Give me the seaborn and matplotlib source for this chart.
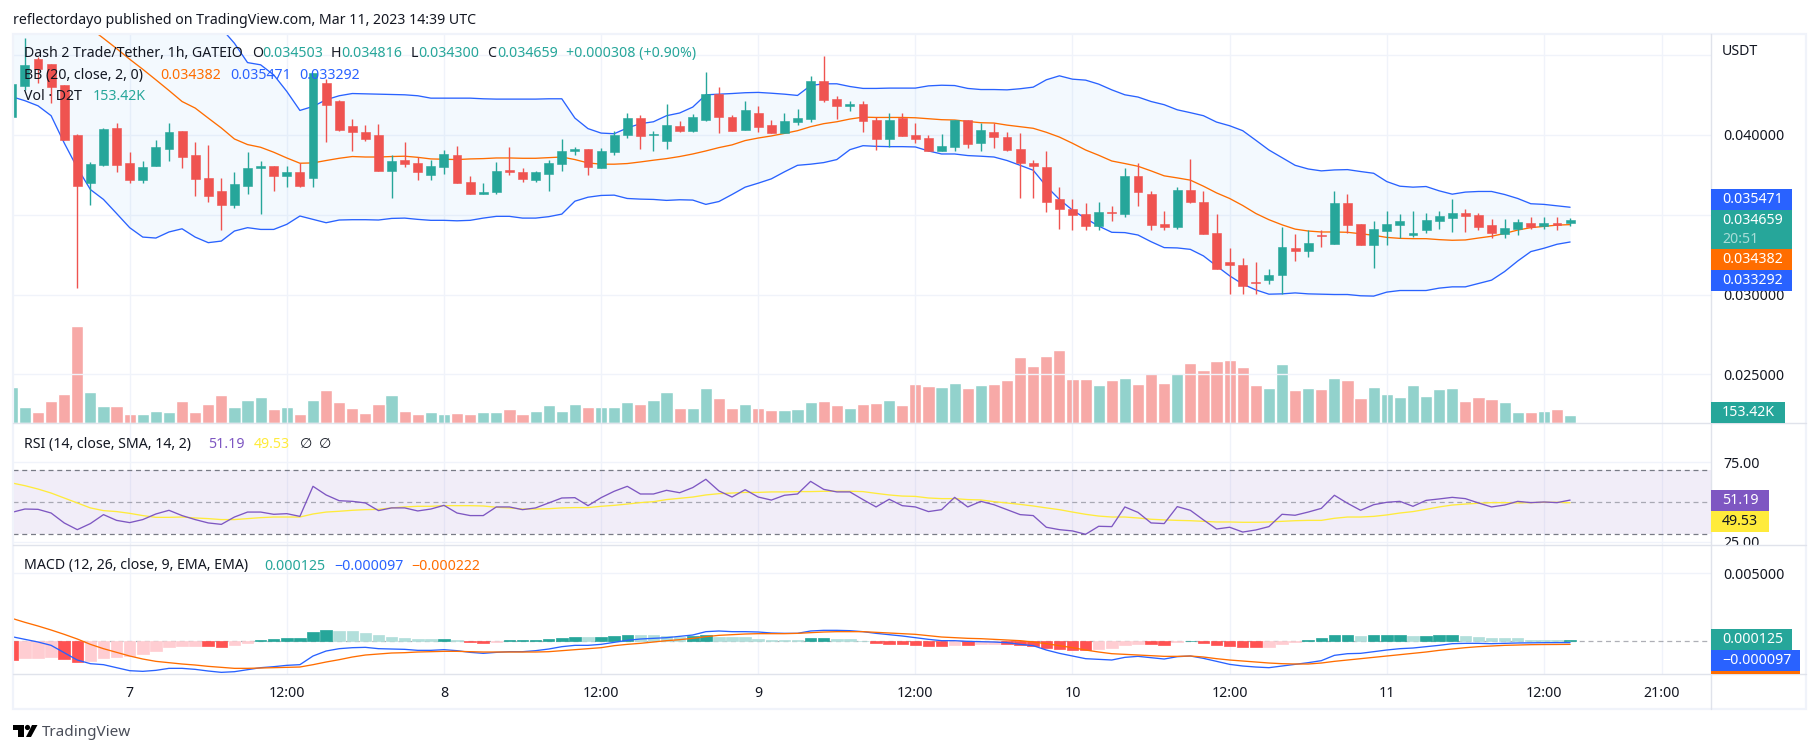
import numpy as np
import pandas as pd
import matplotlib
matplotlib.use('Agg')
import matplotlib.pyplot as plt
from matplotlib.patches import Rectangle, Circle, Polygon
from matplotlib.transforms import Bbox
import seaborn as sns

# candles, one per hour, hour 0 = Mar 7 00:00. prices in 0.001 USDT
open_m = [41.12,43.08,44.75,44.46,43.15,40.02,36.96,38.15,40.46,
    38.27,37.21,38.08,39.15,40.27,38.77,37.33,36.46,35.58,36.83,
    37.90,38.08,37.46,37.65,37.33,43.27,42.15,40.58,40.21,40.02,
    37.77,38.46,38.27,37.52,38.02,38.77,37.08,36.33,36.40,37.83,
    37.65,37.21,37.58,38.21,39.02,39.15,37.90,38.96,40.02,41.08,
    40.02,39.65,40.58,40.27,40.96,42.58,41.15,40.33,41.40,40.65,
    40.15,40.83,41.02,43.40,42.27,41.83,41.96,40.96,39.77,41.08,
    40.02,39.83,39.02,39.27,40.96,39.52,40.21,39.90,39.15,38.27,
    38.02,35.96,35.33,35.02,34.27,35.15,35.02,37.40,36.33,34.40,
    34.21,36.58,35.83,33.83,32.02,31.83,30.77,30.90,31.21,32.90,
    32.71,33.71,33.15,35.71,34.40,33.08,33.96,34.33,33.71,34.02,
    34.58,34.77,35.08,34.96,34.33,33.77,34.08,34.46,34.27,34.46,34.503]
close_m = [43.21,44.40,44.15,43.02,39.71,36.83,38.21,40.40,38.15,
    37.21,38.02,39.27,40.21,38.65,37.27,36.15,35.58,36.90,37.96,
    38.08,37.40,37.65,36.83,43.90,41.90,40.33,40.21,39.77,37.77,
    38.40,38.21,37.65,38.08,38.83,37.02,36.33,36.40,37.77,37.71,
    37.27,37.65,38.27,39.02,39.15,37.98,39.02,40.02,41.08,39.96,
    40.08,40.65,40.27,41.15,42.58,41.15,40.27,41.58,40.52,40.15,
    40.90,41.08,43.40,42.21,41.83,41.96,40.90,39.77,40.96,39.96,
    39.77,39.02,39.33,40.96,39.46,40.33,39.90,39.08,38.27,38.08,
    35.83,35.33,34.96,34.27,35.15,35.08,37.40,36.40,34.33,34.21,
    36.58,35.77,33.77,31.58,31.83,30.52,30.71,31.21,32.96,32.71,
    33.21,33.65,35.71,34.33,33.08,34.08,34.40,34.58,33.83,34.65,
    34.90,35.08,34.90,34.21,33.83,34.15,34.52,34.21,34.46,34.33,34.659]
high_m = [43.21,46.06,44.92,44.46,43.15,40.08,38.31,40.44,40.77,
    38.96,38.40,39.71,40.77,40.27,39.58,39.40,37.33,37.71,38.96,
    38.40,38.08,38.08,38.27,43.90,43.52,42.21,41.02,40.65,40.71,
    38.77,39.58,38.65,38.46,39.08,39.33,37.46,37.02,38.33,39.27,
    37.90,37.77,38.46,39.77,39.27,39.15,39.21,40.27,41.40,41.27,
    40.27,41.96,40.90,41.33,43.96,43.02,41.27,42.15,41.83,40.96,
    41.40,41.65,43.71,44.96,42.46,42.15,42.15,41.15,41.40,41.40,
    40.77,40.02,40.08,40.96,40.96,40.77,40.77,40.21,40.15,38.46,
    39.02,36.77,35.96,35.71,35.77,35.52,37.96,38.27,36.46,35.21,
    36.77,38.52,36.52,35.02,32.90,32.27,32.02,31.58,34.21,33.77,
    34.02,34.02,36.52,36.33,34.40,34.58,35.21,35.02,35.21,35.08,
    35.21,35.96,35.33,35.08,34.71,34.71,34.71,34.83,34.83,34.83,34.816]
low_m = [41.12,42.83,43.29,42.00,39.71,30.42,35.58,38.04,37.71,
    37.02,37.02,38.08,38.40,37.96,36.15,35.83,34.02,35.40,36.33,
    35.02,36.52,36.77,36.77,36.77,39.58,40.27,39.02,39.65,37.77,
    36.08,38.02,37.15,37.15,37.58,37.02,36.27,36.27,36.33,37.52,
    37.08,37.08,36.46,37.77,38.77,37.52,37.90,38.77,39.83,39.15,
    39.02,39.15,40.21,40.21,40.90,40.15,40.27,40.33,40.21,40.15,
    40.15,40.65,40.83,42.08,41.02,41.52,40.21,39.08,39.27,39.96,
    39.52,39.02,39.02,39.02,39.21,39.02,39.21,39.02,36.08,36.08,
    35.15,34.08,34.02,34.02,34.02,34.58,34.83,35.52,34.02,34.02,
    34.08,35.71,33.77,31.58,30.02,30.02,30.02,30.65,30.02,32.08,
    32.33,32.96,33.15,33.83,33.08,31.64,33.08,33.52,33.58,33.83,
    34.08,33.90,33.90,34.02,33.52,33.52,33.71,34.08,34.08,34.02,34.30]

# bollinger bands, first upper/basis points run off the top of the pane
bb_upper_m = [48.5,48.5,48.5,48.4,48.2,48.0,47.9,47.9,47.8,
    47.8,47.7,47.7,47.6,47.5,47.4,47.2,46.69,45.75,44.54,
    44.40,43.77,42.73,41.54,41.79,42.21,42.46,42.60,42.58,42.56,
    42.54,42.52,42.46,42.31,42.31,42.31,42.31,42.27,42.25,42.25,
    42.25,42.25,42.27,42.27,41.06,40.40,40.12,40.08,40.44,40.71,
    40.83,41.21,41.38,41.75,42.52,42.56,42.60,42.65,42.67,42.62,
    42.56,42.48,43.10,43.21,43.21,43.04,42.92,42.92,42.94,42.94,
    42.94,43.08,43.12,43.10,42.92,42.85,42.85,42.83,42.90,43.00,
    43.46,43.71,43.50,43.44,43.19,42.83,42.52,42.38,42.10,41.90,
    41.58,41.40,41.21,40.81,40.58,40.27,39.67,39.06,38.58,38.10,
    37.87,37.75,37.81,37.83,37.71,37.60,37.08,36.79,36.73,36.77,
    36.50,36.29,36.42,36.46,36.46,36.27,36.02,35.69,35.65,35.56,35.471]
bb_basis_m = [48.9,48.7,48.5,48.25,47.83,47.31,46.69,46.06,45.42,
    44.75,44.12,43.46,42.79,42.10,41.69,41.06,40.44,39.75,39.40,
    39.23,38.92,38.56,38.23,38.25,38.40,38.54,38.65,38.62,38.62,
    38.65,38.67,38.60,38.50,38.48,38.46,38.50,38.52,38.56,38.56,
    38.54,38.54,38.58,38.62,38.46,38.25,38.17,38.17,38.21,38.31,
    38.42,38.52,38.65,38.81,39.00,39.21,39.38,39.65,39.81,39.94,
    40.10,40.27,40.52,40.71,40.83,41.00,41.12,41.10,41.10,41.10,
    41.08,41.02,40.96,40.94,40.85,40.77,40.75,40.62,40.52,40.42,
    40.17,39.87,39.48,39.06,38.73,38.37,38.21,38.04,37.75,37.44,
    37.31,37.17,36.79,36.37,36.02,35.58,35.08,34.69,34.37,34.10,
    33.98,33.92,33.92,33.90,33.81,33.71,33.58,33.52,33.50,33.50,
    33.44,33.40,33.42,33.54,33.65,33.83,34.04,34.19,34.27,34.35,34.382]
bb_lower_m = [42.40,42.15,41.83,41.21,39.50,37.94,36.58,35.96,35.08,
    34.19,33.60,33.54,33.92,34.12,33.60,33.25,33.35,33.98,34.19,
    34.08,34.08,34.40,34.92,34.71,34.50,34.67,34.69,34.69,34.67,
    34.77,34.79,34.71,34.65,34.65,34.62,34.65,34.79,34.90,34.90,
    34.79,34.79,34.88,35.04,35.85,36.10,36.21,36.23,36.02,35.98,
    35.96,35.90,35.94,35.92,35.65,35.83,36.27,36.73,36.98,37.25,
    37.69,38.10,38.17,38.27,38.46,39.08,39.33,39.29,39.27,39.27,
    39.25,39.00,38.81,38.81,38.71,38.67,38.62,38.40,38.10,37.79,
    36.79,35.96,35.29,34.77,34.29,33.90,33.88,33.73,33.31,32.94,
    32.92,32.83,32.42,31.79,31.17,30.65,30.29,30.02,30.04,30.10,
    30.04,30.02,30.00,30.00,29.92,29.90,30.15,30.25,30.25,30.25,
    30.40,30.48,30.48,30.69,30.90,31.44,32.10,32.69,32.90,33.15,33.292]

# volume in thousands
volume_k = [669,301,209,411,540,1793,577,319,319,
    172,172,227,209,411,209,356,522,301,430,
    485,264,301,172,430,614,393,282,190,356,
    522,227,172,209,172,190,172,209,209,264,
    172,227,338,227,356,301,301,301,393,356,
    430,577,282,282,651,467,282,356,282,246,
    246,264,393,411,338,282,356,375,430,338,
    725,688,669,743,651,706,725,798,1222,1056,
    1240,1351,817,817,706,798,835,725,927,743,
    927,1111,982,1148,1167,1038,706,651,1093,614,
    651,632,835,798,467,669,540,485,706,503,
    632,651,411,485,448,393,209,209,227,264,153.42]

rsi = [43.5,45.6,45.4,43.1,36.9,32.7,36.5,42.1,38.5,
    37.1,39.0,42.5,44.8,41.5,39.0,36.9,36.0,40.6,43.7,
    43.7,42.3,42.7,41.0,59.8,54.4,50.8,50.4,49.4,44.6,
    46.3,46.3,44.4,45.6,47.9,43.1,41.5,41.5,46.9,46.9,
    45.2,46.3,49.4,52.5,52.7,47.7,52.7,56.7,59.8,55.0,
    55.0,57.3,55.8,59.0,64.2,56.9,53.1,57.7,53.1,51.2,
    54.2,55.0,62.9,57.9,56.3,56.3,51.5,46.9,51.7,47.7,
    46.9,44.0,45.2,52.9,46.9,50.4,48.3,45.2,42.1,41.5,
    34.2,32.7,31.9,29.8,34.8,34.6,46.9,43.5,36.9,36.5,
    47.1,44.8,38.8,33.1,34.2,31.2,32.5,34.6,42.3,41.7,
    43.7,46.0,54.2,49.2,44.8,48.3,49.8,50.4,47.3,51.0,
    51.9,52.9,52.1,49.4,46.9,48.1,50.4,49.6,50.0,49.6,51.19]
rsi_sma = [61.9,60.2,58.1,55.6,52.5,49.4,46.3,44.6,44.0,
    42.9,41.5,40.4,40.4,40.6,40.0,39.6,39.0,39.0,39.6,
    40.2,40.6,40.6,40.6,42.5,43.7,44.2,44.8,45.2,45.4,
    46.3,46.9,47.3,47.3,47.7,47.7,47.7,47.5,46.7,46.3,
    45.6,45.6,45.8,46.3,46.5,46.5,47.3,47.9,48.7,49.6,
    50.2,51.5,52.3,53.1,54.4,55.2,55.6,56.0,56.0,56.3,
    56.3,56.5,56.5,56.7,56.7,56.7,56.5,55.4,54.4,53.7,
    53.5,52.5,52.1,52.1,51.5,51.3,50.2,49.4,48.5,47.5,
    46.3,45.2,43.7,42.3,41.2,40.6,40.6,40.0,39.2,38.8,
    38.5,38.3,37.9,37.5,37.5,37.3,37.3,37.5,37.9,38.3,
    38.5,38.5,39.8,40.6,40.6,41.0,41.9,43.1,44.0,45.4,
    46.9,48.1,48.7,49.2,49.6,49.6,49.4,49.6,49.8,49.8,49.53]

# macd in millionths of USDT
macd_hist_u = [-1372,-1225,-1220,-1151,-1298,-1519,-1445,-1225,-1151,
    -1078,-931,-710,-416,-343,-340,-345,-416,-270,-122,
    98,172,245,250,686,833,760,755,612,466,
    318,245,172,170,175,98,-49,-122,-49,98,
    105,110,172,245,318,315,320,392,466,460,
    441,392,343,392,466,318,315,312,172,98,
    96,94,245,250,172,170,25,-122,-196,-200,
    -270,-343,-345,-270,-275,-196,-190,-195,-270,-343,
    -490,-564,-637,-640,-564,-490,-270,-196,-200,-270,
    -49,49,-122,-270,-343,-416,-420,-415,-196,-49,
    98,245,466,470,392,466,470,475,392,395,
    466,470,392,318,245,240,235,120,118,115,125]
macd_line_u = [343,147,-49,-294,-833,-1372,-1642,-1715,-1936,
    -2156,-2205,-2132,-1985,-1985,-2058,-2181,-2279,-2230,-2083,
    -1936,-1862,-1764,-1715,-1078,-711,-539,-466,-441,-539,
    -564,-588,-662,-662,-613,-686,-809,-882,-809,-760,
    -760,-686,-564,-392,-294,-294,-221,-74,74,172,
    221,270,368,466,711,760,711,711,686,613,
    588,588,760,809,809,784,711,588,490,392,
    270,147,49,49,0,-25,-49,-98,-221,-319,
    -637,-882,-1078,-1274,-1323,-1372,-1176,-1103,-1201,-1299,
    -1127,-1078,-1250,-1470,-1691,-1813,-1887,-1936,-1813,-1691,
    -1568,-1421,-1029,-907,-882,-760,-637,-539,-490,-392,
    -294,-172,-147,-147,-172,-147,-120,-110,-100,-95,-97]
macd_signal_u = [1691,1397,1127,833,515,172,-221,-539,-809,
    -1078,-1299,-1470,-1568,-1666,-1740,-1838,-1911,-1985,-1985,
    -1960,-1936,-1911,-1887,-1715,-1519,-1348,-1152,-1005,-931,
    -858,-833,-784,-760,-735,-735,-760,-784,-784,-784,
    -784,-784,-760,-686,-613,-539,-466,-319,-221,-147,
    -49,49,122,221,343,441,490,539,564,564,
    564,588,637,686,711,711,711,662,613,564,
    515,417,318,270,221,196,147,98,49,-49,
    -172,-319,-466,-637,-784,-907,-956,-1005,-1054,-1103,
    -1103,-1078,-1152,-1274,-1372,-1446,-1519,-1593,-1642,-1666,
    -1666,-1593,-1470,-1372,-1274,-1176,-1078,-980,-882,-784,
    -662,-564,-466,-392,-343,-294,-270,-245,-235,-230,-222]

time_ticks = [0, 12, 24, 36, 48, 60, 72, 84, 96, 108, 117]
time_labels = ['7', '12:00', '8', '12:00', '9', '12:00', '10', '12:00', '11', '12:00', '21:00']
bold_labels = ['7', '8', '9', '10']
price_ticks = [0.045, 0.040, 0.035, 0.030, 0.025]
price_labels = ['', '0.040000', '', '0.030000', '0.025000']

GREEN = '#26a69a'
RED = '#ef5350'
BLUE = '#2962ff'
ORANGE = '#ff6d00'
PURPLE = '#7e57c2'
YELLOW = '#ffeb3b'
INK = '#131722'
GRID = '#f0f3fa'
EDGE = '#e0e3eb'
FONT = 10.2
LINE = 0.95

sns.set_theme(style='white')
plt.rcParams['font.family'] = ['Noto Sans', 'DejaVu Sans']
plt.rcParams['font.size'] = FONT

df = pd.DataFrame({'hour': np.arange(-9, 111), 'open': open_m, 'high': high_m, 'low': low_m,
                   'close': close_m, 'upper': bb_upper_m, 'basis': bb_basis_m, 'lower': bb_lower_m,
                   'volume': volume_k, 'rsi': rsi, 'rsi_sma': rsi_sma, 'hist': macd_hist_u,
                   'macd': macd_line_u, 'signal': macd_signal_u})
for col in ['open', 'high', 'low', 'close', 'upper', 'basis', 'lower']:
    df[col] = df[col] * 1e-3
for col in ['hist', 'macd', 'signal']:
    df[col] = df[col] * 1e-6
df['up'] = df['close'] >= df['open']
df['direction'] = np.where(df['up'], 'up', 'down')

prev = df['hist'].shift(1).fillna(np.inf)
df['shade'] = np.where(df['hist'] >= 0,
                       np.where(df['hist'] > prev, 'up_strong', 'up_weak'),
                       np.where(df['hist'] < prev, 'down_strong', 'down_weak'))

W, H = 1814, 753
X_LEFT, X_RIGHT = 13, 1711
XLIM = (-8.91, 120.76)
fig = plt.figure(figsize=(W / 100, H / 100), dpi=100, facecolor='white')


def pane(top, bottom, zorder=1):
    ax = fig.add_axes([X_LEFT / W, 1 - bottom / H, (X_RIGHT - X_LEFT) / W, (bottom - top) / H], zorder=zorder)
    sns.despine(ax=ax, left=True, bottom=True)
    ax.set_xlim(XLIM)
    return ax


def finish(ax, yticks, ylabels):
    ax.set_xlim(XLIM)
    ax.set_xlabel('')
    ax.set_ylabel('')
    ax.set_xticks(time_ticks)
    ax.set_yticks(yticks)
    ax.set_yticklabels(ylabels)
    ax.yaxis.tick_right()
    ax.set_axisbelow(True)
    ax.grid(True, color=GRID, lw=1.0)
    ax.tick_params(axis='y', length=0, pad=8.6, labelsize=FONT, labelcolor=INK)
    ax.tick_params(axis='x', length=0, labelbottom=False)


# volume sits in its own axes behind the price pane
ax_vol = pane(34, 423, zorder=1)
sns.barplot(data=df, x='hour', y='volume', hue='direction', palette={'up': '#92d2cc', 'down': '#f7a9a7'},
            native_scale=True, dodge=False, width=0.93, saturation=1, errorbar=None, legend=False, ax=ax_vol)
ax_vol.set_ylim(0, 7165)
ax_vol.set_xlim(XLIM)
ax_vol.axis('off')

ax = pane(34, 423, zorder=2)
ax.patch.set_alpha(0)
ax.fill_between(df['hour'], df['upper'], df['lower'], color='#2196f3', alpha=0.05, lw=0, zorder=1)
sns.lineplot(data=df, x='hour', y='upper', color=BLUE, lw=LINE, errorbar=None, ax=ax, zorder=2)
sns.lineplot(data=df, x='hour', y='lower', color=BLUE, lw=LINE, errorbar=None, ax=ax, zorder=2)
sns.lineplot(data=df, x='hour', y='basis', color=ORANGE, lw=LINE, errorbar=None, ax=ax, zorder=2)
colors = df['up'].map({True: GREEN, False: RED})
ax.vlines(df['hour'], df['low'], df['high'], colors=colors, lw=1.0, zorder=3)
ax.bar(df['hour'], (df['close'] - df['open']).abs(), bottom=df[['open', 'close']].min(axis=1),
       width=0.68, color=colors, edgecolor=colors, lw=0.4, zorder=4)
ax.set_ylim(0.021944, 0.046332)
finish(ax, price_ticks, price_labels)

# rsi
ax_rsi = pane(423, 545, zorder=3)
ax_rsi.axhspan(30, 70, color=PURPLE, alpha=0.1, lw=0)
ax_rsi.axhline(70, color='#787b86', ls=(0, (4, 3)), lw=0.9)
ax_rsi.axhline(30, color='#787b86', ls=(0, (4, 3)), lw=0.9)
ax_rsi.axhline(50, color='#787b86', ls=(0, (4, 3)), lw=0.9, alpha=0.6)
sns.lineplot(data=df, x='hour', y='rsi_sma', color=YELLOW, lw=LINE, errorbar=None, ax=ax_rsi)
sns.lineplot(data=df, x='hour', y='rsi', color=PURPLE, lw=LINE, errorbar=None, ax=ax_rsi)
ax_rsi.set_ylim(23.1, 99.4)
finish(ax_rsi, [25, 75], ['25.00', '75.00'])
for lab in ax_rsi.get_yticklabels():
    lab.set_clip_on(True)
    lab.set_clip_box(Bbox([[X_RIGHT, H - 545], [1806, H]]))

# macd
ax_macd = pane(545, 674, zorder=4)
ax_macd.axhline(0, color='#787b86', ls=(0, (4, 3)), lw=0.9, alpha=0.6, zorder=0.6)
sns.barplot(data=df, x='hour', y='hist', hue='shade',
            palette={'up_strong': GREEN, 'up_weak': '#b2dfdb', 'down_strong': '#ff5252', 'down_weak': '#ffcdd2'},
            native_scale=True, dodge=False, width=0.88, saturation=1, errorbar=None, legend=False, ax=ax_macd)
# thin outline so the bars next to zero stay solid
for bar in ax_macd.patches:
    bar.set_edgecolor(bar.get_facecolor())
    bar.set_linewidth(0.5)
sns.lineplot(data=df, x='hour', y='macd', color=BLUE, lw=LINE, errorbar=None, ax=ax_macd)
sns.lineplot(data=df, x='hour', y='signal', color=ORANGE, lw=LINE, errorbar=None, ax=ax_macd)
ax_macd.set_ylim(-0.0024, 0.00708)
finish(ax_macd, [0.005], ['0.005000'])
ax_macd.tick_params(axis='x', labelbottom=True, pad=8.5, labelsize=FONT, labelcolor=INK)
ax_macd.set_xticklabels(time_labels)
for lab in ax_macd.get_xticklabels():
    if lab.get_text() in bold_labels:
        lab.set_fontweight('bold')

# overlay in pixel coordinates for frame, legends, price badges and logo
ov = fig.add_axes([0, 0, 1, 1], zorder=10)
ov.set_xlim(0, W)
ov.set_ylim(H, 0)
ov.axis('off')


def label(x, y, text, color=INK, size=FONT, **kw):
    ov.text(x, y, text, color=color, fontsize=size, va='center', ha='left', **kw)


def badge(y0, y1, x1, color, text, tcolor='white', y_text=None):
    ov.add_patch(Rectangle((X_RIGHT, y0), x1 - X_RIGHT, y1 - y0, color=color, lw=0, zorder=3))
    ov.text(1722, (y0 + y1) / 2 if y_text is None else y_text, text, color=tcolor, fontsize=FONT,
            va='center', ha='left', zorder=4)


ov.add_patch(Rectangle((13, 34), 1793, 675, fill=False, ec=GRID, lw=1.6))
ov.plot([X_RIGHT, X_RIGHT], [34, 709], color=EDGE, lw=1.0)
for y in [423, 545, 674]:
    ov.plot([13, 1806], [y, y], color=EDGE, lw=1.0)

label(13, 20, 'reflectordayo published on TradingView.com, Mar 11, 2023 14:39 UTC')

label(24, 53, 'Dash 2 Trade/Tether, 1h, GATEIO')
for x, t in [(252, 'O'), (331, 'H'), (411, 'L'), (487, 'C')]:
    label(x, 53, t)
for x, t in [(262, '0.034503'), (341, '0.034816'), (418, '0.034300'), (497, '0.034659'), (566, '+0.000308 (+0.90%)')]:
    label(x, 53, t, color=GREEN)
label(24, 75, 'BB (20, close, 2, 0)')
label(160, 75, '0.034382', color=ORANGE)
label(230, 75, '0.035471', color=BLUE)
label(299, 75, '0.033292', color=BLUE)
label(24, 96, 'Vol · D2T')
label(93, 96, '153.42K', color=GREEN)
label(24, 444, 'RSI (14, close, SMA, 14, 2)')
label(208, 444, '51.19', color=PURPLE)
label(254, 444, '49.53', color=YELLOW)
label(300, 444, '∅')
label(319, 444, '∅')
label(24, 566, 'MACD (12, 26, close, 9, EMA, EMA)')
label(264, 566, '0.000125', color=GREEN)
label(334, 566, '−0.000097', color=BLUE)
label(411, 566, '−0.000222', color=ORANGE)

label(1722, 51, 'USDT')
badge(189, 210, 1792, BLUE, '0.035471')
badge(210, 249, 1792, GREEN, '0.034659', y_text=220)
ov.text(1722, 239, '20:51', color='#a8dcd7', fontsize=FONT, va='center', ha='left', zorder=4)
badge(249, 270, 1792, ORANGE, '0.034382')
badge(270, 291, 1792, BLUE, '0.033292')
badge(402, 423, 1785, GREEN, '153.42K')
badge(490, 511, 1769, PURPLE, '51.19')
badge(511, 532, 1769, YELLOW, '49.53', tcolor=INK)
badge(629, 650, 1792, GREEN, '0.000125')
badge(650, 671, 1800, BLUE, '−0.000097')
badge(671, 674, 1800, ORANGE, '')

# tradingview logo
ov.add_patch(Rectangle((13, 725), 11, 5, color='black', lw=0))
ov.add_patch(Rectangle((18, 725), 6, 12, color='black', lw=0))
ov.add_patch(Circle((27.5, 727.5), 2.6, color='black', lw=0))
ov.add_patch(Polygon([(26, 737), (31, 737), (37.5, 725), (32, 725)], color='black', lw=0))
label(42, 732, 'TradingView', color='#4a4e59', size=11)

fig.savefig('out.png', dpi=100, facecolor='white')
